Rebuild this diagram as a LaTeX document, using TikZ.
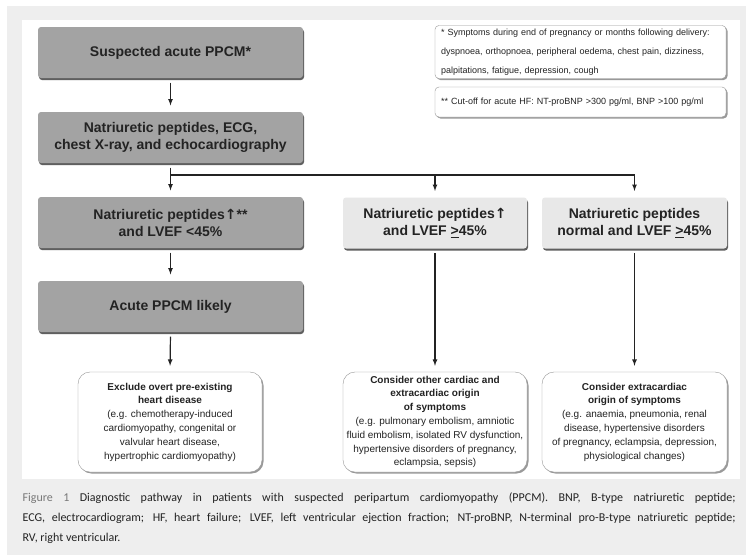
\documentclass[tikz,border=0pt]{standalone}
\usepackage{fontspec}
\setmainfont{Liberation Sans}
\newfontfamily\captionfont{Carlito}
\newfontfamily\symfont{DejaVu Sans}
\usetikzlibrary{shadows}

\definecolor{ink}{RGB}{35,35,35}
\definecolor{boxdark}{RGB}{163,163,163}
\definecolor{boxlight}{RGB}{232,232,232}
\definecolor{shadowgray}{RGB}{95,95,95}
\definecolor{framegray}{RGB}{150,150,150}
\definecolor{panelgray}{RGB}{238,238,238}
\definecolor{figgray}{RGB}{120,120,120}

\newcommand{\uparr}{{\symfont ↑}}

\begin{document}
\begin{tikzpicture}[x=1pt, y=-1pt, >=latex, line width=1.2pt, color=ink, text=ink,
  darkbox/.style={fill=boxdark, rounded corners=3pt, minimum width=265pt, minimum height=51pt, inner xsep=2pt, align=center, font=\fontsize{14}{17}\selectfont\bfseries, drop shadow={shadow xshift=1pt, shadow yshift=-2pt, fill=shadowgray, opacity=1}},
  lightbox/.style={darkbox, fill=boxlight, minimum width=185pt},
  outcome/.style={draw=framegray, thin, fill=white, rounded corners=12pt, minimum width=184pt, minimum height=100pt, inner xsep=1pt, align=center, font=\fontsize{10}{13.8}\selectfont, drop shadow={shadow xshift=1.5pt, shadow yshift=-1.5pt, fill=black!40, opacity=1}},
  note/.style={draw=framegray, thin, fill=white, rounded corners=4pt, text width=279pt, inner xsep=6pt, align=left, drop shadow={shadow xshift=1.5pt, shadow yshift=-1.5pt, fill=black!40, opacity=1}},
  flow/.style={->, shorten <=4pt, shorten >=6pt}]

\useasboundingbox (0, 0) rectangle (746, 555);
\fill[panelgray] (7, 6) rectangle (746, 555);
\fill[white] (22, 20) rectangle (740, 479);

\node (suspected) at (170.5, 52.5)  [darkbox] {Suspected acute PPCM*};
\node (tests)     at (170.5, 137.5) [darkbox] {Natriuretic peptides, ECG,\\chest X-ray, and echocardiography};
\node (lowEF)     at (170.5, 222.5) [darkbox] {Natriuretic peptides\uparr**\\and LVEF <45\%};
\node (likely)    at (170.5, 306.5) [darkbox] {Acute PPCM likely};

\node (highEF) at (435, 223)   [lightbox, minimum width=184pt] {Natriuretic peptides\uparr\\and LVEF \underline{>}45\%};
\node (normal) at (634.5, 223) [lightbox] {Natriuretic peptides\\normal and LVEF \underline{>}45\%};

\node (exclude) at (170, 422)   [outcome] {\textbf{Exclude overt pre-existing}\\\textbf{heart disease}\\(e.g. chemotherapy-induced\\cardiomyopathy, congenital or\\valvular heart disease,\\hypertrophic cardiomyopathy)};
\node (other)   at (435, 422)   [outcome] {\textbf{Consider other cardiac and}\\\textbf{extracardiac origin}\\\textbf{of symptoms}\\(e.g. pulmonary embolism, amniotic\\fluid embolism, isolated RV dysfunction,\\hypertensive disorders of pregnancy,\\eclampsia, sepsis)};
\node (extra)   at (634.5, 422) [outcome, minimum width=185pt] {\textbf{Consider extracardiac}\\\textbf{origin of symptoms}\\(e.g. anaemia, pneumonia, renal\\disease, hypertensive disorders\\of pregnancy, eclampsia, depression,\\physiological changes)};

\node (symptoms) at (580.5, 52)  [note, minimum height=50pt, font=\fontsize{9}{19}\selectfont] {* Symptoms during end of pregnancy or months following delivery:\\dyspnoea, orthopnoea, peripheral oedema, chest pain, dizziness,\\palpitations, fatigue, depression, cough};
\node (cutoff)   at (580.5, 102) [note, minimum height=30pt, font=\fontsize{9}{10}\selectfont] {** Cut-off for acute HF: NT-proBNP >300 pg/ml, BNP >100 pg/ml};

\coordinate (split) at (170.5, 175);

\path[flow] (suspected.south) edge (tests.north);
\draw[shorten <=4pt] (tests.south) -- (split);
\draw[->, shorten >=6pt] (split) -- (lowEF.north);
\draw[->, shorten >=6pt] (split) -| (highEF.north);
\draw[->, shorten >=6pt] (split) -| (normal.north);
\path[flow] (lowEF.south) edge (likely.north);
\path[flow] (likely.south) edge (exclude.north);
\path[flow] (highEF.south) edge (other.north);
\path[flow] (normal.south) edge (extra.north);

\node (caption) at (22, 492) [anchor=north west, inner sep=0pt, text width=713pt, align=justify, font=\captionfont\fontsize{12}{20}\selectfont] {\textcolor{figgray}{Figure 1} Diagnostic pathway in patients with suspected peripartum cardiomyopathy (PPCM). BNP, B-type natriuretic peptide;\linebreak ECG, electrocardiogram; HF, heart failure; LVEF, left ventricular ejection fraction; NT-proBNP, N-terminal pro-B-type natriuretic peptide;\linebreak RV, right ventricular.};

\end{tikzpicture}
\end{document}
